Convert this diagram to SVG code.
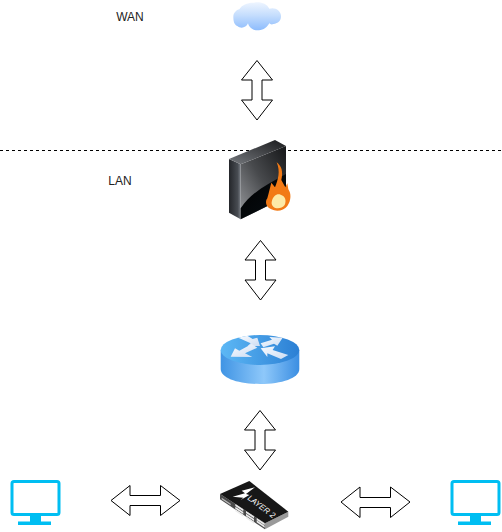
<svg xmlns="http://www.w3.org/2000/svg" width="502" height="532" viewBox="0 0 502 532">
<style>
.lbl{font-family:"Liberation Sans",Arial,sans-serif;font-size:12px;fill:#222;text-anchor:middle}
.arr{fill:#fff;stroke:#000;stroke-width:1;stroke-linejoin:miter}
.mon{fill:#fff;stroke:#00bef2;stroke-width:3}
.monf{fill:#00bef2}
.rarrow{fill:url(#rw)}
.port{fill:#ececec}
</style>
<defs>
<linearGradient id="cg" x1="0" y1="0" x2="0" y2="1"><stop offset="0" stop-color="#eef5ff"/><stop offset=".45" stop-color="#c6defd"/><stop offset="1" stop-color="#8dbcfd"/></linearGradient>
<linearGradient id="fl" x1="0" y1="0" x2="1" y2="0"><stop offset="0" stop-color="#24262a"/><stop offset=".75" stop-color="#484c52"/><stop offset="1" stop-color="#7a7f86"/></linearGradient>
<linearGradient id="ft" x1="0" y1="1" x2="1" y2="0"><stop offset="0" stop-color="#75787d"/><stop offset="1" stop-color="#1a1b1d"/></linearGradient>
<linearGradient id="fr" x1="1" y1="0" x2="0" y2="1"><stop offset="0" stop-color="#151618"/><stop offset=".5" stop-color="#484a4d"/><stop offset="1" stop-color="#989a9e"/></linearGradient>
<linearGradient id="fb" x1="0" y1="0" x2="1" y2="1"><stop offset="0" stop-color="#000"/><stop offset=".6" stop-color="#05090c"/><stop offset="1" stop-color="#123a4c"/></linearGradient>
<linearGradient id="rt" x1="0" y1="0" x2="1" y2="0"><stop offset="0" stop-color="#5db8f5"/><stop offset="1" stop-color="#2b7fd4"/></linearGradient>
<linearGradient id="rs" x1="0" y1="0" x2="1" y2="0"><stop offset="0" stop-color="#3f94e4"/><stop offset=".55" stop-color="#8ec8fa"/><stop offset="1" stop-color="#3b8ee2"/></linearGradient>
<linearGradient id="rw" x1="0" y1="0" x2="1" y2="1"><stop offset="0" stop-color="#f8fbff"/><stop offset="1" stop-color="#ccdcf2"/></linearGradient>
<path id="pt" class="port" d="M0 0L24 16V22L0 6Z"/>
</defs>
<g id="connectors">
<path id="divider" d="M0 150.500H502" fill="none" stroke="#000" stroke-width="1" stroke-dasharray="3 3"/>
<path class="arr" d="M257 60.500L272.500 80H262V100H272.500L257 120L241.500 100H252V80H241.500Z"/>
<path class="arr" d="M260.500 240.500L276 260H265.500V280H276L260.500 300L245 280H255.500V260H245Z"/>
<path class="arr" d="M260 410.500L275.500 430H265V450H275.500L260 470L244.500 450H255V430H244.500Z"/>
<path class="arr" d="M111 500.500L130 485.500V495.500H160.500V485.500L180 500.500L160.500 515.500V505.500H130V515.500Z"/>
<path class="arr" d="M341 502L360 487V497.500H390.500V487L410 502L390.500 517.500V507.500H360V517.500Z"/>
</g>
<g id="wan-label"><text class="lbl" x="130" y="21">WAN</text></g>
<g id="lan-label"><text class="lbl" x="120" y="185">LAN</text></g>
<g id="cloud" transform="translate(210 0) scale(.3333)">
<path fill="url(#cg)" d="M70 50C70 38 80 30 88 28C95 14 115 7 132 8C150 4 170 10 178 26C195 20 213 32 213 48C213 62 205 70 190 72C185 75 180 72 178 70C172 80 160 92 145 91C130 92 118 84 114 70C108 84 92 87 82 78C72 74 70 62 70 50Z"/>
</g>
<g id="firewall" transform="translate(210 130) scale(.3333)">
<polygon points="57,87 92,103 92,268 57,248" fill="url(#fl)"/>
<polygon points="92,103 228,48 228,200 92,268" fill="url(#fr)"/>
<path d="M92 235C125 185 170 165 228 132V200L92 268Z" fill="url(#fb)"/>
<polygon points="57,87 195,30 228,48 92,103" fill="url(#ft)"/>
<path fill="#f27a16" d="M200 97C215 108 220 125 214 150L226 172L232 160L235 178C244 190 244 212 232 228C222 242 200 246 184 238C168 232 164 215 172 205L176 190L184 158L195 172C204 150 212 125 200 97Z"/>
<path fill="#fde9a6" d="M186 212C190 198 200 190 212 194C226 198 230 212 224 225C216 236 198 238 190 230C184 224 184 218 186 212Z"/>
</g>
<g id="router">
<path fill="url(#rs)" d="M220.700 350V369C220.700 378 238 384 260 384S299.300 378 299.300 369V350Z"/>
<ellipse cx="260" cy="350" rx="39.300" ry="15" fill="url(#rt)"/>
<g transform="translate(210 325) scale(.3333)">
<polygon class="rarrow" points="85,38 112,32 128,42 142,38 150,63 113,63 122,55"/>
<polygon class="rarrow" points="218,38 178,36 186,44 152,55 160,67 192,56 202,62"/>
<polygon class="rarrow" points="62,95 75,70 88,77 125,57 142,68 105,85 127,96"/>
<polygon class="rarrow" points="152,70 195,64 188,75 235,90 213,102 172,85 172,96"/>
</g>
</g>
<g id="switch" transform="translate(210 470) scale(.3333)">
<polygon points="30,72 165,160 165,178 30,88" fill="#4a4a4a"/>
<polygon points="165,160 235,125 235,140 165,178" fill="#9a9a9a"/>
<polygon points="30,72 118,33 235,125 165,160" fill="#171717"/>
<path d="M35 83L62 101V106L35 88Z" fill="#bbb"/>
<use href="#pt" x="76" y="102"/><use href="#pt" x="76" y="110"/><use href="#pt" x="76" y="118"/>
<use href="#pt" x="108" y="123"/><use href="#pt" x="108" y="131"/><use href="#pt" x="108" y="139"/>
<use href="#pt" x="140" y="144"/><use href="#pt" x="140" y="151"/>
<polygon points="135,52 95,62 105,70 68,80 100,83 92,90 118,75 108,72" fill="#fff"/>
</g>
<g id="switch-label"><text x="247" y="499" transform="rotate(37 247 499)" font-family="Liberation Sans,Arial,sans-serif" font-size="8" font-style="italic" fill="#fff">LAYER 2</text></g>
<g id="pc-left">
<rect class="mon" x="12" y="481.500" width="47" height="33" rx="2"/>
<path class="monf" d="M30 516H41V521.500H51V525H18V521.500H30Z"/>
</g>
<g id="pc-right">
<rect class="mon" x="452" y="481.500" width="47" height="33" rx="2"/>
<path class="monf" d="M470 516H481V521.500H491V525H458V521.500H470Z"/>
</g>
</svg>
